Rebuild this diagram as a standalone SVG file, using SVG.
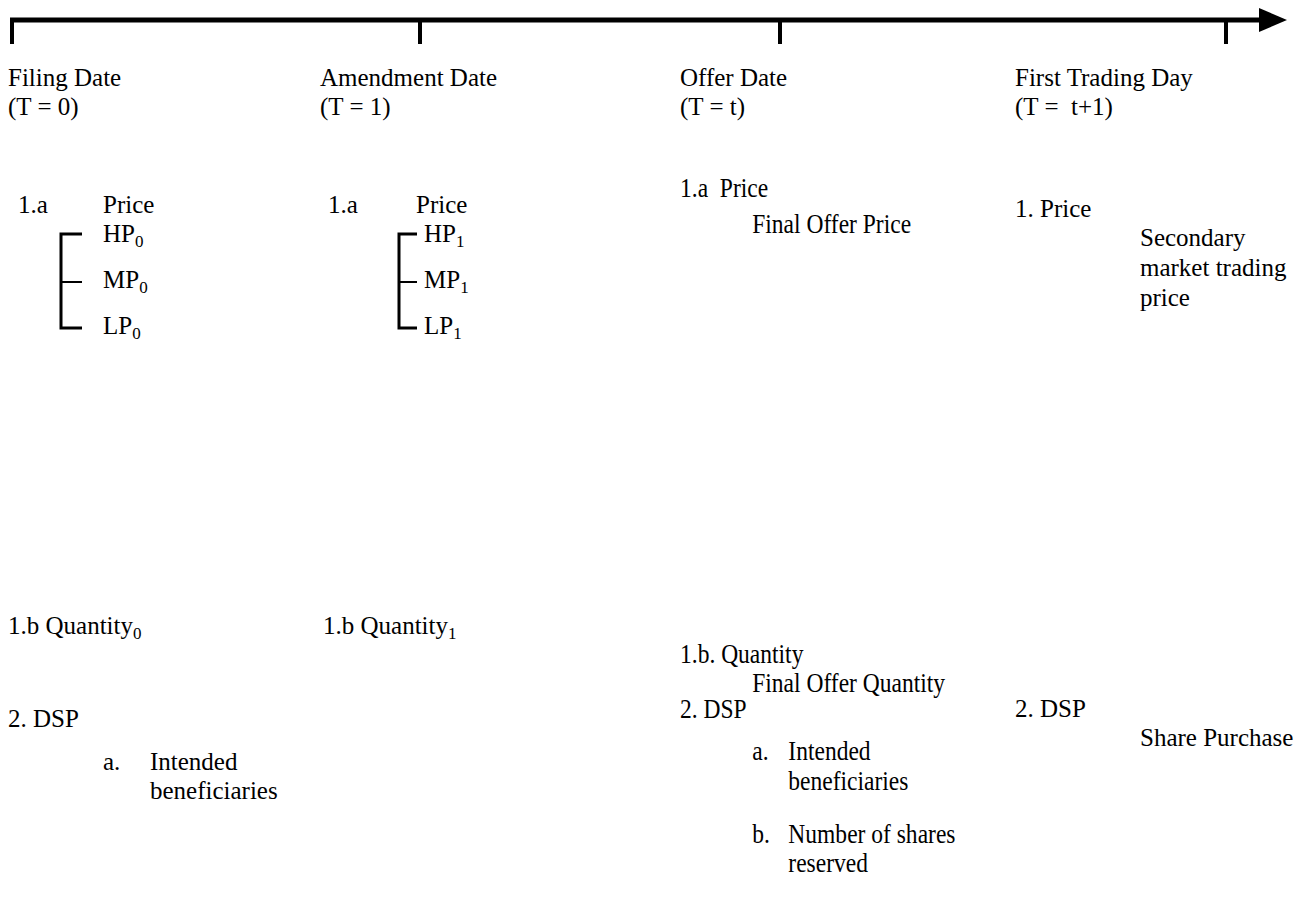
<svg xmlns="http://www.w3.org/2000/svg" width="1306" height="905" viewBox="0 0 1306 905">
<style>
text{font-family:"Liberation Serif","Times New Roman",Tinos,"DejaVu Serif",serif;font-size:25px;fill:#000}
.sub{font-size:17px}
.tl{stroke:#000;stroke-width:5;fill:none}
.tick{stroke:#000;stroke-width:4;fill:none}
.br{stroke:#000;stroke-width:3;fill:none}
.brt{stroke:#000;stroke-width:2;fill:none}
.c{font-size:28px}
</style>
<g id="connectors">
<line class="tl" x1="10" y1="20" x2="1262" y2="20"/>
<polygon points="1259,8 1287,20 1259,32" fill="#000"/>
<line class="tick" x1="12" y1="18" x2="12" y2="44"/>
<line class="tick" x1="420" y1="20" x2="420" y2="44"/>
<line class="tick" x1="780" y1="20" x2="780" y2="44"/>
<line class="tick" x1="1226" y1="20" x2="1226" y2="44"/>
<path class="br" d="M82,234 H61 V328 H82"/>
<line class="brt" x1="61" y1="282" x2="82" y2="282"/>
<path class="br" d="M417,234 H399 V328 H417"/>
<line class="brt" x1="399" y1="282" x2="417" y2="282"/>
</g>
<g id="filing">
<text x="8" y="86">Filing Date</text>
<text x="8" y="115">(T = 0)</text>
<text x="18" y="213">1.a</text>
<text x="103" y="213">Price</text>
<text x="103" y="242">HP<tspan class="sub" dy="5">0</tspan></text>
<text x="103" y="288">MP<tspan class="sub" dy="5">0</tspan></text>
<text x="103" y="334">LP<tspan class="sub" dy="5">0</tspan></text>
<text x="8" y="634">1.b Quantity<tspan class="sub" dy="5">0</tspan></text>
<text x="8" y="727">2. DSP</text>
<text x="103" y="770">a.</text>
<text x="150" y="770">Intended</text>
<text x="150" y="799">beneficiaries</text>
</g>
<g id="amendment">
<text x="320" y="86">Amendment Date</text>
<text x="320" y="115">(T = 1)</text>
<text x="328" y="213">1.a</text>
<text x="416" y="213">Price</text>
<text x="424" y="242">HP<tspan class="sub" dy="5">1</tspan></text>
<text x="424" y="288">MP<tspan class="sub" dy="5">1</tspan></text>
<text x="424" y="334">LP<tspan class="sub" dy="5">1</tspan></text>
<text x="323" y="634">1.b Quantity<tspan class="sub" dy="5">1</tspan></text>
</g>
<g id="offer">
<text x="680" y="86">Offer Date</text>
<text x="680" y="115">(T = t)</text>
<g transform="translate(680 0) scale(0.84 1)">
<text class="c" x="0" y="197" xml:space="preserve">1.a  Price</text>
<text class="c" x="86" y="233">Final Offer Price</text>
<text class="c" x="0" y="663">1.b. Quantity</text>
<text class="c" x="86" y="692">Final Offer Quantity</text>
<text class="c" x="0" y="718">2. DSP</text>
<text class="c" x="86" y="760">a.</text>
<text class="c" x="129" y="760">Intended</text>
<text class="c" x="129" y="790">beneficiaries</text>
<text class="c" x="86" y="843">b.</text>
<text class="c" x="129" y="843">Number of shares</text>
<text class="c" x="129" y="872">reserved</text>
</g>
</g>
<g id="trading">
<text x="1015" y="86">First Trading Day</text>
<text x="1015" y="115" xml:space="preserve">(T =  t+1)</text>
<text x="1015" y="217">1. Price</text>
<text x="1140" y="246">Secondary</text>
<text x="1140" y="276">market trading</text>
<text x="1140" y="306">price</text>
<text x="1015" y="717">2. DSP</text>
<text x="1140" y="746">Share Purchase</text>
</g>
</svg>
